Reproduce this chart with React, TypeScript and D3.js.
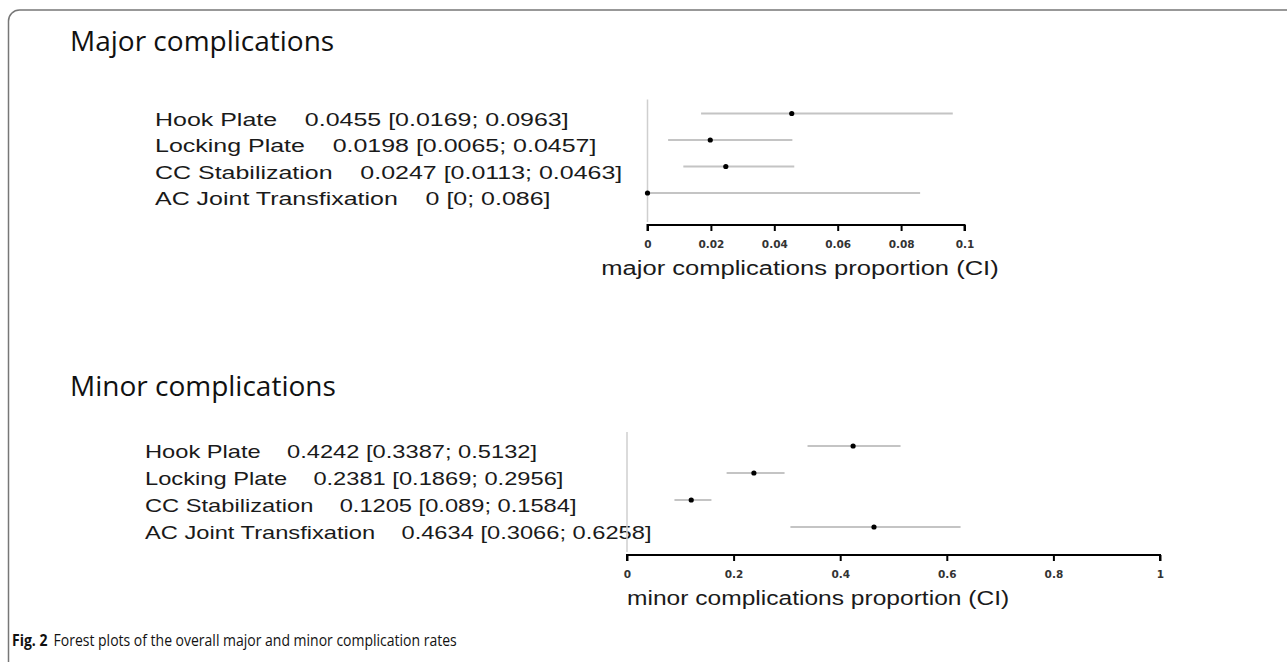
import React, { useEffect, useRef } from "react";
import * as d3 from "d3";

const studyLabels = ["Hook Plate", "Locking Plate", "CC Stabilization", "AC Joint Transfixation"];

const majorEst = [0.0455, 0.0198, 0.0247, 0];
const majorLo = [0.0169, 0.0065, 0.0113, 0];
const majorHi = [0.0963, 0.0457, 0.0463, 0.086];
const majorTicks = [0, 0.02, 0.04, 0.06, 0.08, 0.1];

const minorEst = [0.4242, 0.2381, 0.1205, 0.4634];
const minorLo = [0.3387, 0.1869, 0.089, 0.3066];
const minorHi = [0.5132, 0.2956, 0.1584, 0.6258];
const minorTicks = [0, 0.2, 0.4, 0.6, 0.8, 1];

const W = 1287;
const H = 662;

// one forest plot panel
function drawPanel(svg, opts) {
  const { title, titleY, est, lo, hi, ticks, domain, x0, x1, rowY, rowStep, axisY, labelX, labelScale, axisTitle, axisTitleX, axisTitleAnchor, axisTitleScale } = opts;
  const x = d3.scaleLinear().domain(domain).range([x0, x1]);
  const y = d3.scaleLinear().domain([0, 1]).range([rowY, rowY + rowStep]);

  const g = svg.append("g");

  g.append("text")
    .attr("x", 70)
    .attr("y", titleY)
    .attr("font-family", "'Open Sans', sans-serif")
    .attr("font-size", 28)
    .attr("fill", "#111")
    .text(title);

  // left text column (the source image is stretched sideways)
  g.selectAll(".lab")
    .data(studyLabels)
    .join("text")
    .attr("class", "lab")
    .attr("transform", (d, i) => `translate(${labelX},${y(i) + 12}) scale(${labelScale},1)`)
    .attr("font-family", "'Liberation Sans', Arial, sans-serif")
    .attr("font-size", 18.5)
    .attr("fill", "#1a1a1a")
    .style("white-space", "pre")
    .text((d, i) => `${d}    ${est[i]} [${lo[i]}; ${hi[i]}]`);

  // reference line at 0
  g.append("line")
    .attr("x1", x(0))
    .attr("x2", x(0))
    .attr("y1", rowY - 14)
    .attr("y2", axisY - 3)
    .attr("stroke", "#cfcfcf")
    .attr("stroke-width", 1.5);

  g.selectAll(".ci")
    .data(est)
    .join("line")
    .attr("class", "ci")
    .attr("x1", (d, i) => x(lo[i]))
    .attr("x2", (d, i) => x(hi[i]))
    .attr("y1", (d, i) => y(i))
    .attr("y2", (d, i) => y(i))
    .attr("stroke", "#c4c4c4")
    .attr("stroke-width", 2);

  g.selectAll(".pt")
    .data(est)
    .join("circle")
    .attr("class", "pt")
    .attr("cx", (d) => x(d))
    .attr("cy", (d, i) => y(i))
    .attr("r", 2.6)
    .attr("fill", "#000");

  const axis = d3.axisBottom(x).tickValues(ticks).tickSize(6).tickSizeOuter(0).tickFormat((d) => String(+d));
  const ag = g.append("g").attr("transform", `translate(0,${axisY})`).call(axis);
  ag.select(".domain").attr("stroke", "#000").attr("stroke-width", 2).attr("d", `M${x0},6V0H${x1}V6`);
  ag.selectAll(".tick line").attr("stroke", "#000").attr("stroke-width", 2);
  ag.selectAll(".tick text")
    .attr("y", 16)
    .attr("font-family", "'DejaVu Sans', sans-serif")
    .attr("font-size", 10.5)
    .attr("font-weight", "bold")
    .attr("fill", "#333");

  g.append("text")
    .attr("transform", `translate(${axisTitleX},${axisY + 50}) scale(${axisTitleScale},1)`)
    .attr("text-anchor", axisTitleAnchor)
    .attr("font-family", "'Liberation Sans', Arial, sans-serif")
    .attr("font-size", 19.5)
    .attr("fill", "#1a1a1a")
    .text(axisTitle);
}

const App = () => {
  const svgRef = useRef(null);

  useEffect(() => {
    const svg = d3.select(svgRef.current);
    svg.selectAll("*").remove();

    // frame with rounded top-left corner
    svg.append("path")
      .attr("d", `M8.5,${H}V21a11,11 0 0 1 11,-11H${W}`)
      .attr("fill", "none")
      .attr("stroke", "#777")
      .attr("stroke-width", 1.5);

    drawPanel(svg, {
      title: "Major complications",
      titleY: 51,
      est: majorEst,
      lo: majorLo,
      hi: majorHi,
      ticks: majorTicks,
      domain: [0, 0.1],
      x0: 647.5,
      x1: 964.5,
      rowY: 113.5,
      rowStep: 26.5,
      axisY: 225,
      labelX: 155,
      labelScale: 1.35,
      axisTitle: "major complications proportion (CI)",
      axisTitleX: 800,
      axisTitleAnchor: "middle",
      axisTitleScale: 1.31,
    });

    drawPanel(svg, {
      title: "Minor complications",
      titleY: 396,
      est: minorEst,
      lo: minorLo,
      hi: minorHi,
      ticks: minorTicks,
      domain: [0, 1],
      x0: 627,
      x1: 1160,
      rowY: 446,
      rowStep: 27,
      axisY: 555,
      labelX: 145,
      labelScale: 1.28,
      axisTitle: "minor complications proportion (CI)",
      axisTitleX: 627,
      axisTitleAnchor: "start",
      axisTitleScale: 1.26,
    });

    const cap = svg.append("text")
      .attr("transform", "translate(12,646) scale(0.875,1)")
      .attr("font-family", "'Open Sans', sans-serif")
      .attr("font-size", 16)
      .attr("fill", "#111");
    cap.append("tspan").attr("font-weight", "bold").text("Fig. 2");
    cap.append("tspan").attr("dx", 7).text("Forest plots of the overall major and minor complication rates");
  }, []);

  return (
    <svg
      ref={svgRef}
      width={W}
      height={H}
      style={{ position: "absolute", left: 0, top: 0, background: "#fff" }}
    ></svg>
  );
};

export default App;
